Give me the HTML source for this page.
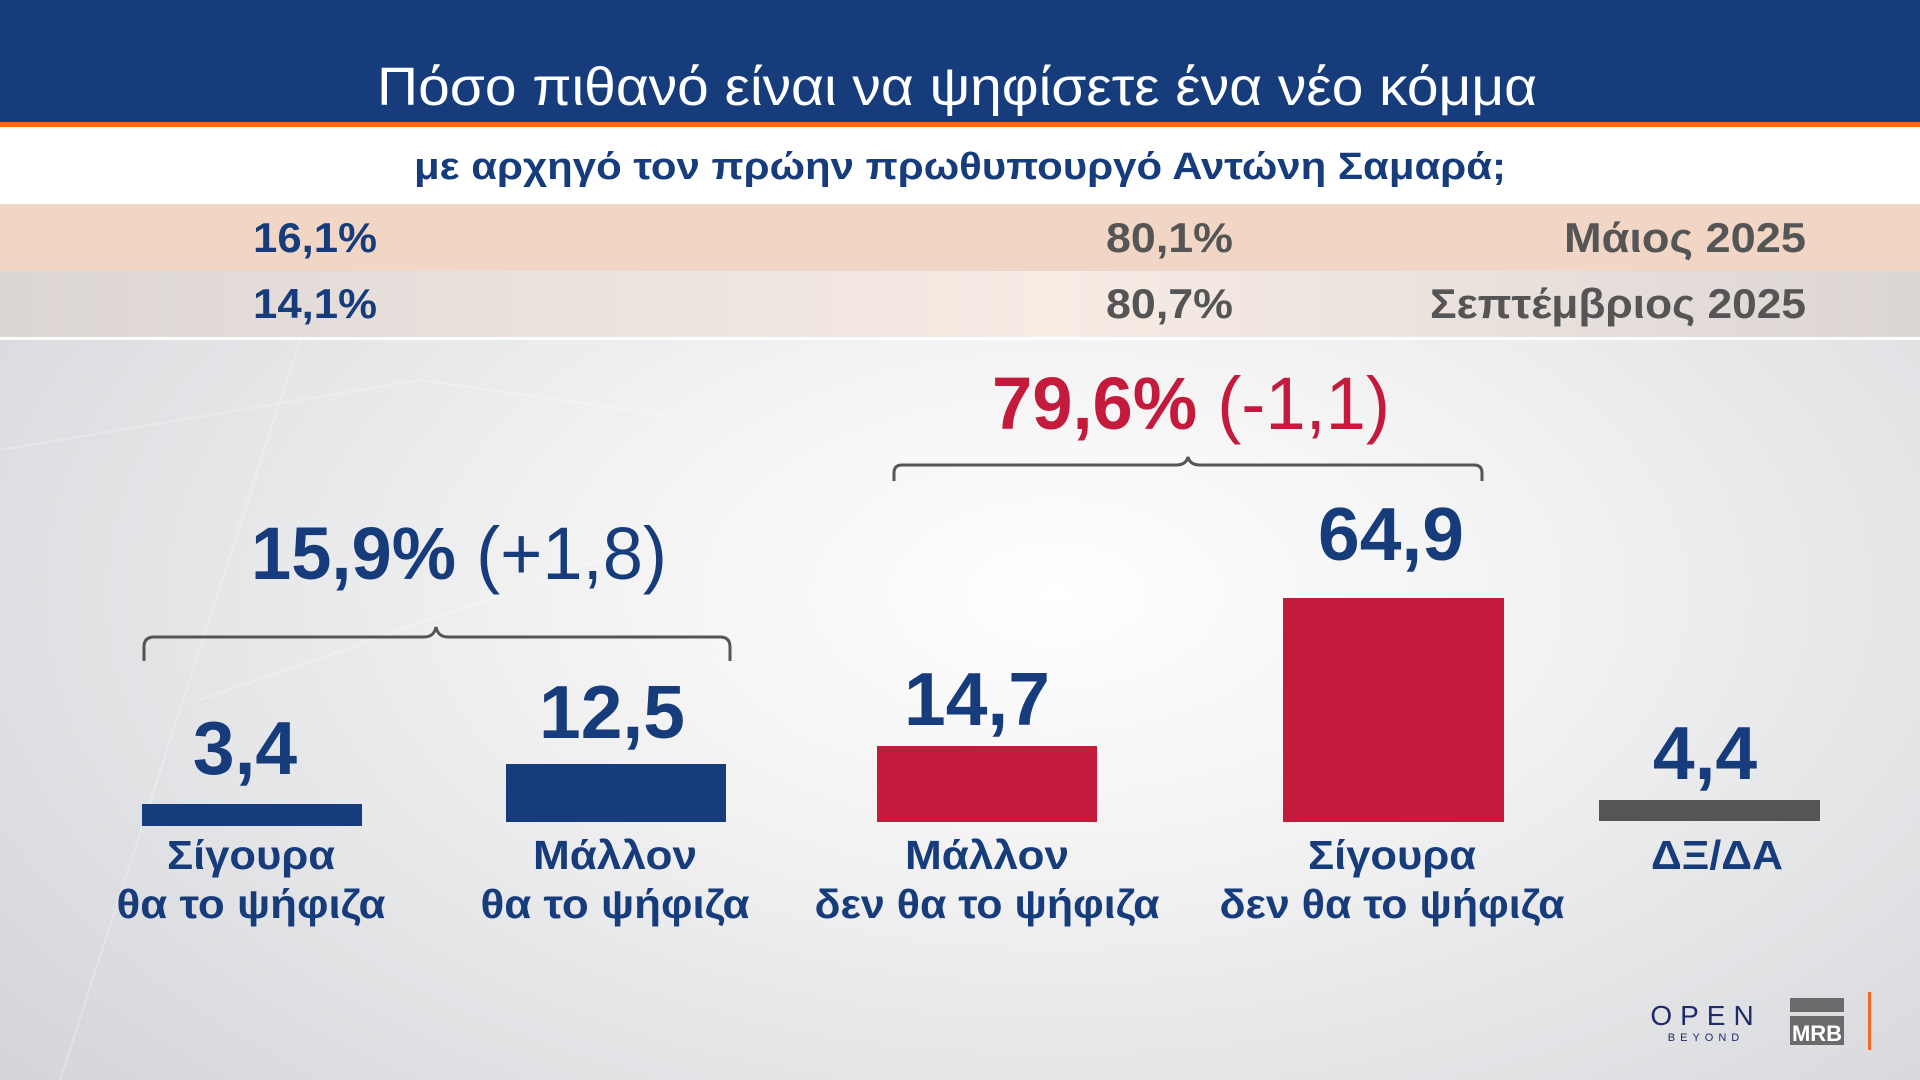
<!DOCTYPE html>
<html><head><meta charset="utf-8"><style>
html,body{margin:0;padding:0;width:1920px;height:1080px;overflow:hidden}
body{background:radial-gradient(ellipse at 55% 55%,#ffffff 0%,#f1f1f2 35%,#dcdde0 75%,#cfd1d5 100%)}
svg{position:absolute;left:0;top:0}
</style></head><body>
<svg width="1920" height="1080" viewBox="0 0 1920 1080" font-family="'Liberation Sans','DejaVu Sans',sans-serif">
<defs>
<linearGradient id="r2" x1="0" x2="1" y1="0" y2="0">
<stop offset="0" stop-color="#dcd6d4"/><stop offset="0.55" stop-color="#f7ece4"/><stop offset="1" stop-color="#dcd6d4"/></linearGradient>
</defs>
<g stroke="#ffffff" stroke-width="2" opacity="0.25" fill="none">
<path d="M0 450 L420 380 L700 420"/><path d="M60 1080 L300 340"/><path d="M200 700 L600 560 L900 820"/>
</g>
<rect x="0" y="0" width="1920" height="122" fill="#173c7c"/>
<rect x="0" y="122" width="1920" height="5" fill="#f26a21"/>
<rect x="0" y="127" width="1920" height="77" fill="#ffffff"/>
<rect x="0" y="204" width="1920" height="67" fill="#f1d6c5"/>
<rect x="0" y="271" width="1920" height="66" fill="url(#r2)"/>
<rect x="0" y="337" width="1920" height="3" fill="#ffffff"/>
<text x="957" y="105" fill="#fff" font-size="54" text-anchor="middle" textLength="1160" lengthAdjust="spacingAndGlyphs">Πόσο πιθανό είναι να ψηφίσετε ένα νέο κόμμα</text>
<text x="960" y="179" fill="#173c7c" font-size="38" font-weight="bold" text-anchor="middle" textLength="1092" lengthAdjust="spacingAndGlyphs">με αρχηγό τον πρώην πρωθυπουργό Αντώνη Σαμαρά;</text>
<g font-size="42" font-weight="bold">
<text x="253" y="252" fill="#173c7c" textLength="124" lengthAdjust="spacingAndGlyphs">16,1%</text>
<text x="1106" y="252" fill="#555" textLength="127" lengthAdjust="spacingAndGlyphs">80,1%</text>
<text x="1806" y="252" fill="#555" text-anchor="end" textLength="242" lengthAdjust="spacingAndGlyphs">Μάιος 2025</text>
<text x="253" y="318" fill="#173c7c" textLength="124" lengthAdjust="spacingAndGlyphs">14,1%</text>
<text x="1106" y="318" fill="#555" textLength="127" lengthAdjust="spacingAndGlyphs">80,7%</text>
<text x="1806" y="318" fill="#555" text-anchor="end" textLength="376" lengthAdjust="spacingAndGlyphs">Σεπτέμβριος 2025</text>
</g>
<g fill="none" stroke="#555" stroke-width="3">
<path d="M144 661 V647 Q144 637 154 637 H424 Q434 637 436 627 Q438 637 448 637 H720 Q730 637 730 647 V661"/>
<path d="M894 481 V473 Q894 465 902 465 H1176 Q1186 465 1188 457 Q1190 465 1200 465 H1474 Q1482 465 1482 473 V481"/>
</g>
<text x="251" y="579" font-size="74" fill="#173c7c" textLength="416" lengthAdjust="spacingAndGlyphs"><tspan font-weight="bold">15,9%</tspan><tspan> (+1,8)</tspan></text>
<text x="992" y="429" font-size="74" fill="#c41b3d" textLength="398" lengthAdjust="spacingAndGlyphs"><tspan font-weight="bold">79,6%</tspan><tspan> (-1,1)</tspan></text>
<rect x="142" y="804" width="220" height="22" fill="#173c7c"/>
<rect x="506" y="764" width="220" height="58" fill="#173c7c"/>
<rect x="877" y="746" width="220" height="76" fill="#c41b3d"/>
<rect x="1283" y="598" width="221" height="224" fill="#c41b3d"/>
<rect x="1599" y="800" width="221" height="21" fill="#555"/>
<g font-size="75" font-weight="bold" text-anchor="middle" fill="#173c7c">
<text x="245" y="774">3,4</text>
<text x="612" y="738">12,5</text>
<text x="977" y="725">14,7</text>
<text x="1391" y="560">64,9</text>
<text x="1705" y="779">4,4</text>
</g>
<g font-size="41" font-weight="bold" text-anchor="middle" fill="#173c7c" lengthAdjust="spacingAndGlyphs">
<text x="251" y="869" textLength="168" lengthAdjust="spacingAndGlyphs">Σίγουρα</text><text x="251" y="918" textLength="269" lengthAdjust="spacingAndGlyphs">θα το ψήφιζα</text>
<text x="615" y="869" textLength="164" lengthAdjust="spacingAndGlyphs">Μάλλον</text><text x="615" y="918" textLength="269" lengthAdjust="spacingAndGlyphs">θα το ψήφιζα</text>
<text x="987" y="869" textLength="164" lengthAdjust="spacingAndGlyphs">Μάλλον</text><text x="987" y="918" textLength="345" lengthAdjust="spacingAndGlyphs">δεν θα το ψήφιζα</text>
<text x="1392" y="869" textLength="168" lengthAdjust="spacingAndGlyphs">Σίγουρα</text><text x="1392" y="918" textLength="345" lengthAdjust="spacingAndGlyphs">δεν θα το ψήφιζα</text>
<text x="1717" y="869" textLength="132" lengthAdjust="spacingAndGlyphs">ΔΞ/ΔΑ</text>
</g>
<text x="1706" y="1025" font-size="28" fill="#1e2a6b" text-anchor="middle" letter-spacing="8">OPEN</text>
<text x="1706" y="1041" font-size="11" fill="#1e2a6b" text-anchor="middle" letter-spacing="5">BEYOND</text>
<rect x="1790" y="998" width="54" height="14" fill="#6b6b6b"/>
<rect x="1790" y="1016" width="54" height="29" fill="#6b6b6b"/>
<text x="1817" y="1041" font-size="22" font-weight="bold" fill="#fff" text-anchor="middle">MRB</text>
<rect x="1868" y="992" width="3" height="58" fill="#f26a21"/>
</svg>
</body></html>
